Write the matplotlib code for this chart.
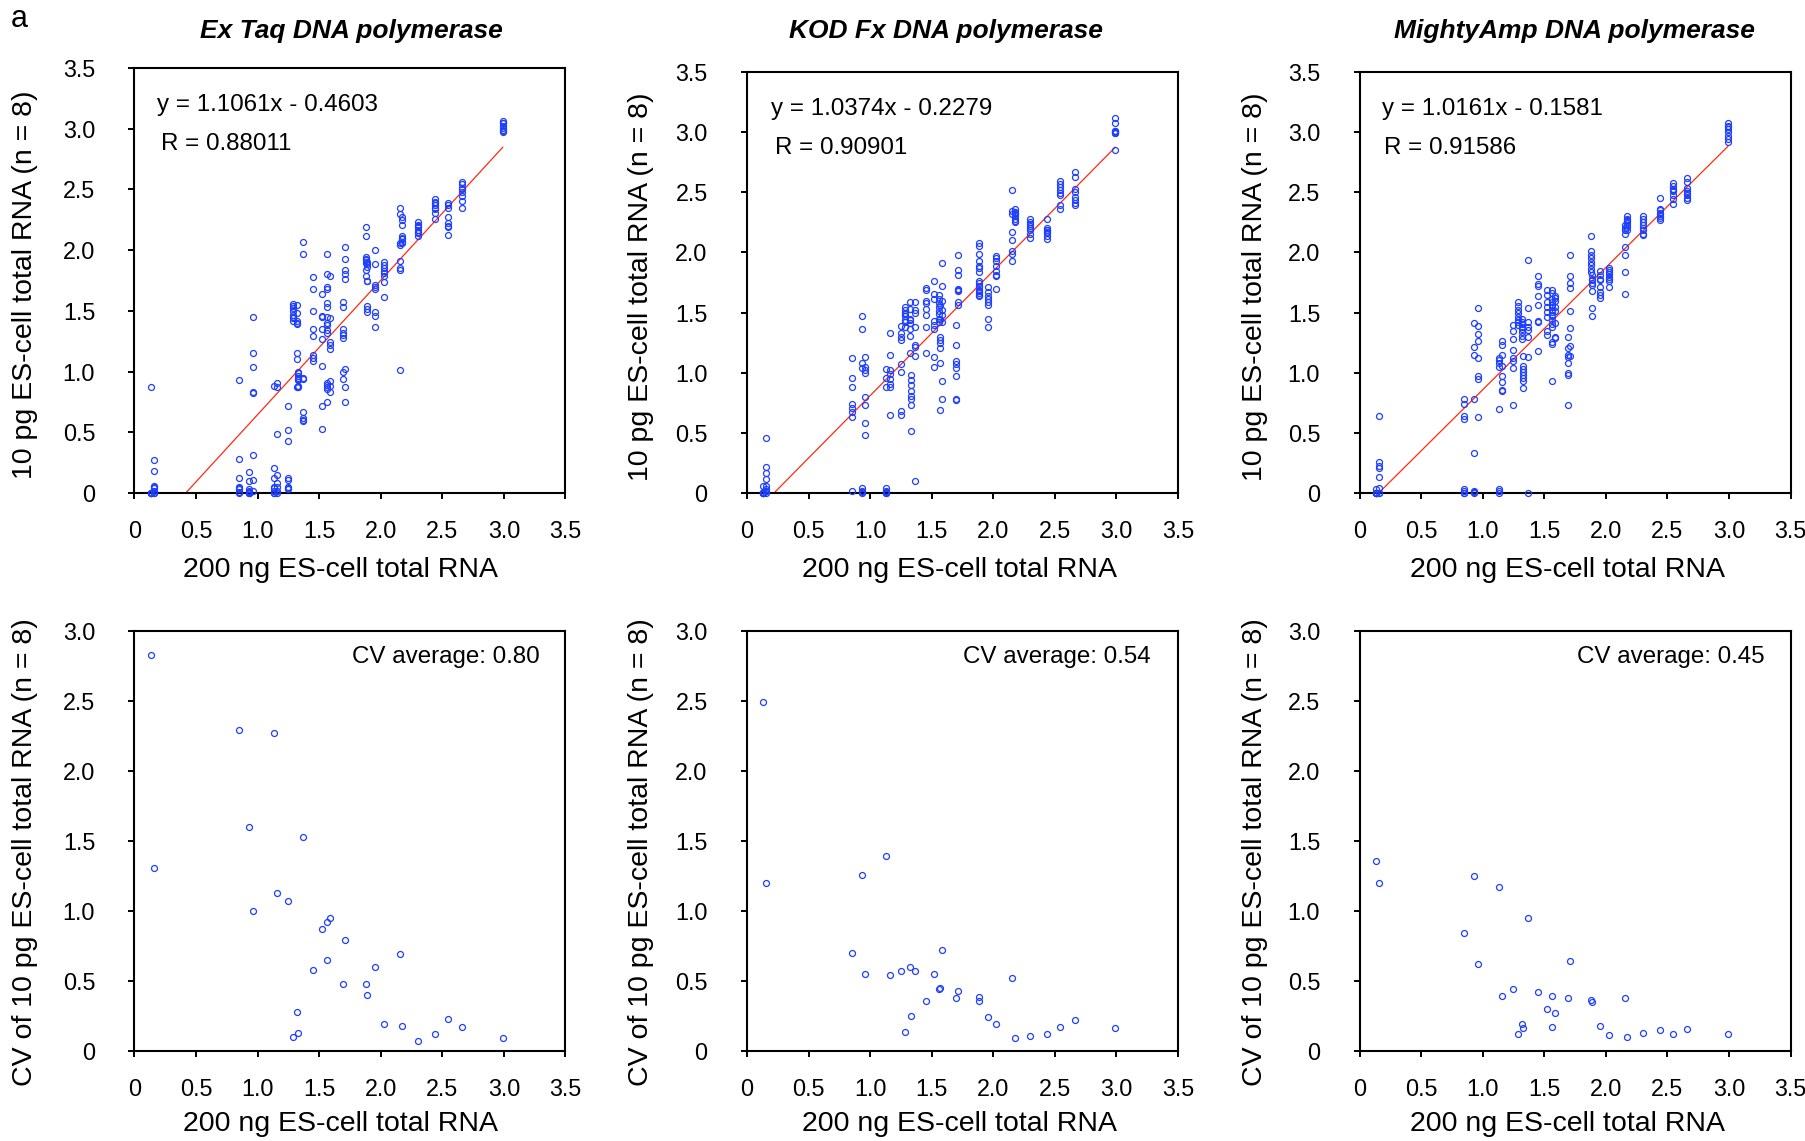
import matplotlib
matplotlib.use('Agg')
import matplotlib.pyplot as plt
import numpy as np

plt.rcParams['font.family'] = ['Liberation Sans', 'DejaVu Sans']

# ---------------- data ----------------
# 200 ng ES-cell total RNA values (one per gene)
gene_x = [0.13, 0.155, 0.85, 0.93, 0.96, 1.13, 1.16, 1.25, 1.285, 1.32,
          1.33, 1.365, 1.45, 1.52, 1.56, 1.565, 1.585, 1.695, 1.71, 1.88,
          1.885, 1.955, 2.025, 2.155, 2.175, 2.30, 2.44, 2.545, 2.66, 2.99]

# 10 pg ES-cell total RNA, 8 replicates per gene
extaq_10pg = [
    [0.87, 0, 0, 0, 0, 0, 0, 0],
    [0.27, 0.18, 0.06, 0.05, 0.04, 0.02, 0, 0],
    [0.93, 0.28, 0.12, 0.05, 0.04, 0.03, 0.01, 0],
    [0.17, 0.10, 0.03, 0.02, 0.01, 0, 0, 0],
    [1.45, 1.15, 1.04, 0.83, 0.82, 0.31, 0.11, 0.02],
    [0.88, 0.21, 0.12, 0.05, 0.04, 0.02, 0, 0],
    [0.91, 0.87, 0.49, 0.15, 0.085, 0.05, 0.02, 0],
    [0.72, 0.52, 0.43, 0.12, 0.11, 0.05, 0.04, 0.03],
    [1.56, 1.54, 1.52, 1.50, 1.47, 1.45, 1.44, 1.42],
    [1.55, 1.48, 1.42, 1.40, 1.39, 1.15, 1.10, 0.87],
    [1.00, 0.99, 0.96, 0.94, 0.93, 0.88, 0.87, 0.95],
    [2.07, 1.97, 0.95, 0.94, 0.67, 0.62, 0.60, 0.59],
    [1.78, 1.68, 1.50, 1.35, 1.29, 1.14, 1.11, 1.09],
    [1.64, 1.46, 1.35, 1.27, 1.05, 0.72, 0.53, 1.45],
    [1.97, 1.80, 1.70, 1.68, 1.565, 1.535, 1.45, 1.38],
    [1.34, 0.89, 0.87, 0.75, 1.32, 1.40, 0.86, 0.91],
    [1.79, 1.44, 1.24, 1.19, 0.92, 0.83, 1.22, 0.88],
    [1.575, 1.53, 1.35, 1.32, 1.28, 1.00, 0.935, 1.30],
    [2.03, 1.925, 1.84, 1.76, 0.875, 0.75, 1.02, 1.80],
    [2.19, 2.12, 1.94, 1.93, 1.915, 1.895, 1.84, 1.785],
    [1.745, 1.54, 1.515, 1.49, 1.89, 1.90, 1.86, 1.75],
    [2.00, 1.89, 1.71, 1.68, 1.49, 1.455, 1.37, 1.70],
    [1.90, 1.88, 1.85, 1.83, 1.81, 1.79, 1.735, 1.615],
    [2.345, 2.30, 2.04, 1.91, 1.84, 1.01, 2.06, 1.85],
    [2.275, 2.21, 2.12, 2.09, 2.055, 2.25, 2.10, 2.07],
    [2.23, 2.21, 2.19, 2.165, 2.14, 2.12, 2.20, 2.15],
    [2.42, 2.40, 2.37, 2.34, 2.31, 2.26, 2.35, 2.39],
    [2.39, 2.35, 2.27, 2.225, 2.19, 2.125, 2.37, 2.20],
    [2.565, 2.545, 2.515, 2.48, 2.445, 2.405, 2.35, 2.50],
    [3.065, 3.045, 3.02, 3.005, 2.99, 2.97, 3.05, 2.98],
]

kod_10pg = [
    [0.06, 0.01, 0, 0, 0, 0, 0, 0],
    [0.455, 0.22, 0.17, 0.12, 0.055, 0.03, 0.02, 0],
    [1.125, 0.955, 0.885, 0.74, 0.705, 0.67, 0.635, 0.02],
    [1.475, 1.365, 1.08, 1.04, 0.04, 0.01, 0.02, 0],
    [1.13, 1.05, 1.025, 1.00, 0.80, 0.73, 0.58, 0.48],
    [1.03, 0.96, 0.88, 0.04, 0.02, 0.01, 0, 0],
    [1.33, 1.15, 1.02, 0.99, 0.95, 0.91, 0.88, 0.645],
    [1.385, 1.33, 1.30, 1.27, 1.07, 1.01, 0.685, 0.645],
    [1.55, 1.52, 1.50, 1.47, 1.44, 1.38, 1.42, 1.49],
    [1.585, 1.44, 1.41, 1.305, 1.16, 1.53, 1.36, 1.45],
    [0.978, 0.94, 0.90, 0.85, 0.81, 0.785, 0.73, 0.517],
    [1.585, 1.50, 1.38, 1.233, 1.215, 1.14, 0.10, 1.52],
    [1.707, 1.686, 1.578, 1.53, 1.476, 1.378, 1.163, 1.60],
    [1.76, 1.655, 1.61, 1.43, 1.363, 1.13, 1.046, 1.40],
    [1.645, 1.615, 1.578, 1.547, 1.516, 1.486, 1.45, 1.425],
    [1.30, 1.27, 1.203, 1.077, 0.69, 1.25, 1.45, 1.56],
    [1.91, 1.72, 0.932, 0.784, 1.48, 1.42, 1.52, 1.60],
    [1.40, 1.233, 1.10, 1.07, 1.04, 0.97, 0.784, 0.776],
    [1.98, 1.855, 1.81, 1.686, 1.68, 1.585, 1.563, 1.70],
    [2.08, 2.05, 1.99, 1.93, 1.89, 1.87, 1.835, 1.76],
    [1.745, 1.71, 1.676, 1.65, 1.635, 1.72, 1.66, 1.69],
    [1.71, 1.67, 1.615, 1.563, 1.45, 1.378, 1.64, 1.59],
    [1.97, 1.953, 1.925, 1.884, 1.842, 1.814, 1.80, 1.70],
    [2.52, 2.17, 2.10, 2.016, 1.985, 1.925, 2.347, 2.316],
    [2.36, 2.33, 2.30, 2.255, 2.28, 2.34, 2.32, 2.26],
    [2.28, 2.255, 2.22, 2.205, 2.19, 2.155, 2.116, 2.24],
    [2.28, 2.20, 2.183, 2.16, 2.14, 2.11, 2.17, 2.19],
    [2.593, 2.568, 2.547, 2.516, 2.495, 2.393, 2.362, 2.48],
    [2.667, 2.63, 2.525, 2.50, 2.464, 2.44, 2.415, 2.396],
    [3.116, 3.08, 3.006, 2.99, 2.853, 3.0, 3.01, 2.995],
]

mighty_10pg = [
    [0.03, 0, 0, 0, 0, 0, 0, 0],
    [0.64, 0.255, 0.227, 0.205, 0.136, 0.039, 0, 0],
    [0.784, 0.744, 0.64, 0.615, 0.03, 0.02, 0, 0],
    [1.41, 1.216, 1.147, 0.78, 0.33, 0.02, 0.01, 0],
    [1.538, 1.39, 1.323, 1.26, 1.123, 0.969, 0.95, 0.63],
    [1.123, 1.105, 1.08, 1.05, 0.70, 0.03, 0.02, 0],
    [1.266, 1.23, 1.147, 1.058, 0.97, 0.925, 0.856, 0.85],
    [1.40, 1.344, 1.277, 1.19, 1.123, 1.037, 0.732, 1.10],
    [1.585, 1.553, 1.52, 1.50, 1.467, 1.44, 1.418, 1.396],
    [1.446, 1.404, 1.377, 1.335, 1.307, 1.28, 1.36, 1.42],
    [1.141, 1.058, 1.008, 0.98, 0.96, 0.928, 0.87, 1.03],
    [1.935, 1.535, 1.418, 1.355, 1.30, 1.127, 1.38, 0],
    [1.80, 1.737, 1.72, 1.634, 1.565, 1.432, 1.418, 1.183],
    [1.69, 1.645, 1.59, 1.547, 1.507, 1.46, 1.344, 1.313],
    [1.69, 1.66, 1.615, 1.585, 1.547, 1.507, 1.47, 1.436],
    [1.406, 1.384, 1.252, 0.932, 1.24, 1.52, 1.56, 1.48],
    [1.64, 1.62, 1.413, 1.288, 1.30, 1.55, 1.51, 1.60],
    [1.30, 1.205, 1.128, 1.077, 1.0, 0.985, 0.732, 1.144],
    [1.978, 1.80, 1.744, 1.707, 1.513, 1.375, 1.224, 1.136],
    [2.14, 2.008, 1.98, 1.953, 1.92, 1.892, 1.859, 1.837],
    [1.809, 1.781, 1.745, 1.676, 1.537, 1.471, 1.77, 1.73],
    [1.842, 1.809, 1.767, 1.712, 1.67, 1.643, 1.62, 1.78],
    [1.87, 1.85, 1.823, 1.795, 1.759, 1.712, 1.84, 1.78],
    [2.224, 2.183, 2.155, 2.044, 1.98, 1.837, 1.657, 2.20],
    [2.307, 2.27, 2.243, 2.21, 2.19, 2.26, 2.23, 2.28],
    [2.302, 2.274, 2.252, 2.23, 2.202, 2.183, 2.155, 2.141],
    [2.455, 2.363, 2.349, 2.321, 2.285, 2.266, 2.33, 2.30],
    [2.574, 2.554, 2.53, 2.51, 2.48, 2.446, 2.40, 2.52],
    [2.62, 2.584, 2.535, 2.507, 2.474, 2.452, 2.44, 2.49],
    [3.078, 3.055, 3.028, 3.0, 2.967, 2.939, 2.922, 3.04],
]

# CV of the 10 pg replicates (one per gene)
cv_extaq = [2.83, 1.31, 2.29, 1.60, 1.00, 2.27, 1.13, 1.07, 0.10, 0.28,
            0.13, 1.53, 0.58, 0.87, 0.65, 0.92, 0.95, 0.48, 0.79, 0.48,
            0.40, 0.60, 0.19, 0.69, 0.18, 0.07, 0.12, 0.23, 0.17, 0.09]
cv_kod = [2.49, 1.20, 0.70, 1.26, 0.55, 1.39, 0.54, 0.57, 0.135, 0.60,
          0.25, 0.57, 0.36, 0.55, 0.44, 0.45, 0.72, 0.38, 0.43, 0.385,
          0.36, 0.24, 0.19, 0.52, 0.09, 0.11, 0.125, 0.175, 0.225, 0.165]
cv_mighty = [1.355, 1.20, 0.84, 1.25, 0.62, 1.175, 0.39, 0.44, 0.123, 0.19,
             0.167, 0.95, 0.42, 0.30, 0.17, 0.394, 0.273, 0.38, 0.64, 0.367,
             0.35, 0.177, 0.116, 0.38, 0.10, 0.13, 0.153, 0.118, 0.158, 0.118]

titles = ['Ex Taq DNA polymerase', 'KOD Fx DNA polymerase', 'MightyAmp DNA polymerase']
fit_slope = [1.1061, 1.0374, 1.0161]
fit_intercept = [-0.4603, -0.2279, -0.1581]
fit_r = ['0.88011', '0.90901', '0.91586']
cv_average = ['0.80', '0.54', '0.45']

xticks = [0, 0.5, 1.0, 1.5, 2.0, 2.5, 3.0, 3.5]
xtick_labels = ['0', '0.5', '1.0', '1.5', '2.0', '2.5', '3.0', '3.5']
top_yticks = [0, 0.5, 1.0, 1.5, 2.0, 2.5, 3.0, 3.5]
top_ytick_labels = ['0', '0.5', '1.0', '1.5', '2.0', '2.5', '3.0', '3.5']
bot_yticks = [0, 0.5, 1.0, 1.5, 2.0, 2.5, 3.0]
bot_ytick_labels = ['0', '0.5', '1.0', '1.5', '2.0', '2.5', '3.0']

xlabel = '200 ng ES-cell total RNA'
top_ylabel = '10 pg ES-cell total RNA (n = 8)'
bot_ylabel = 'CV of 10 pg ES-cell total RNA (n = 8)'

# ---------------- layout / style ----------------
W, H = 1806, 1141
BLUE = '#1f3fff'
RED = '#ff2a10'
fig = plt.figure(figsize=(W / 100, H / 100), dpi=100)

lefts_px = [134.5, 747, 1359.5]
ax_w_px = 431
top_tops_px = [68, 72, 72]
title_cx = [351, 946, 1574]
xlabel_fx = [0.479, 0.493, 0.483]
ylabel_fx = [-0.254, -0.245, -0.242]
eq_fx = [0.052, 0.055, 0.052]
r_fx = [0.062, 0.065, 0.056]
cv_fx = [0.94, 0.937, 0.939]


def style_axes(ax, ymax, yticks, ylabels):
    ax.set_xlim(0, 3.5)
    ax.set_ylim(0, ymax)
    ax.set_xticks(xticks)
    ax.set_xticklabels(xtick_labels)
    ax.set_yticks(yticks)
    ax.set_yticklabels(ylabels)
    for s in ax.spines.values():
        s.set_linewidth(1.5)
        s.set_color('black')
    ax.tick_params(axis='both', direction='out', length=4.3, width=1.4,
                   labelsize=16.8, colors='black')
    ax.tick_params(axis='x', pad=15.5)
    ax.tick_params(axis='y', pad=24)


datasets = [extaq_10pg, kod_10pg, mighty_10pg]
cvsets = [cv_extaq, cv_kod, cv_mighty]

for i in range(3):
    # --- top scatter ---
    t = top_tops_px[i]
    axt = fig.add_axes([lefts_px[i] / W, (H - 493) / H, ax_w_px / W, (493 - t) / H])
    style_axes(axt, 3.5, top_yticks, top_ytick_labels)
    for gx, vals in zip(gene_x, datasets[i]):
        axt.plot([gx] * len(vals), vals, linestyle='none', marker='o', ms=4.3,
                 mfc='none', mec=BLUE, mew=0.9, clip_on=False, zorder=3)
    a, b = fit_slope[i], fit_intercept[i]
    xs = np.array([-b / a, max(gene_x)])
    axt.plot(xs, a * xs + b, color=RED, lw=0.9, zorder=2)
    axt.text(eq_fx[i], 0.913, f'y = {a:.4f}x - {abs(b):.4f}', transform=axt.transAxes,
             ha='left', va='center', fontsize=17.4)
    axt.text(r_fx[i], 0.820, f'R = {fit_r[i]}', transform=axt.transAxes,
             ha='left', va='center', fontsize=17.4)
    axt.text(xlabel_fx[i], -0.182, xlabel, transform=axt.transAxes,
             ha='center', va='center', fontsize=20.5)
    axt.text(ylabel_fx[i], 0.49, top_ylabel, transform=axt.transAxes, rotation=90,
             ha='center', va='center', fontsize=20.5)
    fig.text(title_cx[i] / W, 1 - 31 / H, titles[i], ha='center', va='center',
             fontsize=19, fontweight='bold', fontstyle='italic')

    # --- bottom CV scatter ---
    axb = fig.add_axes([lefts_px[i] / W, (H - 1051) / H, ax_w_px / W, 420 / H])
    style_axes(axb, 3.0, bot_yticks, bot_ytick_labels)
    axb.plot(gene_x, cvsets[i], linestyle='none', marker='o', ms=4.3,
             mfc='none', mec=BLUE, mew=0.9, clip_on=False, zorder=3)
    axb.text(cv_fx[i], 0.938, f'CV average: {cv_average[i]}', transform=axb.transAxes,
             ha='right', va='center', fontsize=17.4)
    axb.text(xlabel_fx[i], -0.174, xlabel, transform=axb.transAxes,
             ha='center', va='center', fontsize=20.5)
    axb.text(ylabel_fx[i], 0.474, bot_ylabel, transform=axb.transAxes, rotation=90,
             ha='center', va='center', fontsize=20.5)

fig.text(19.6 / W, 1 - 19.3 / H, 'a', ha='center', va='center', fontsize=22)

fig.savefig('out.png', dpi=100)
